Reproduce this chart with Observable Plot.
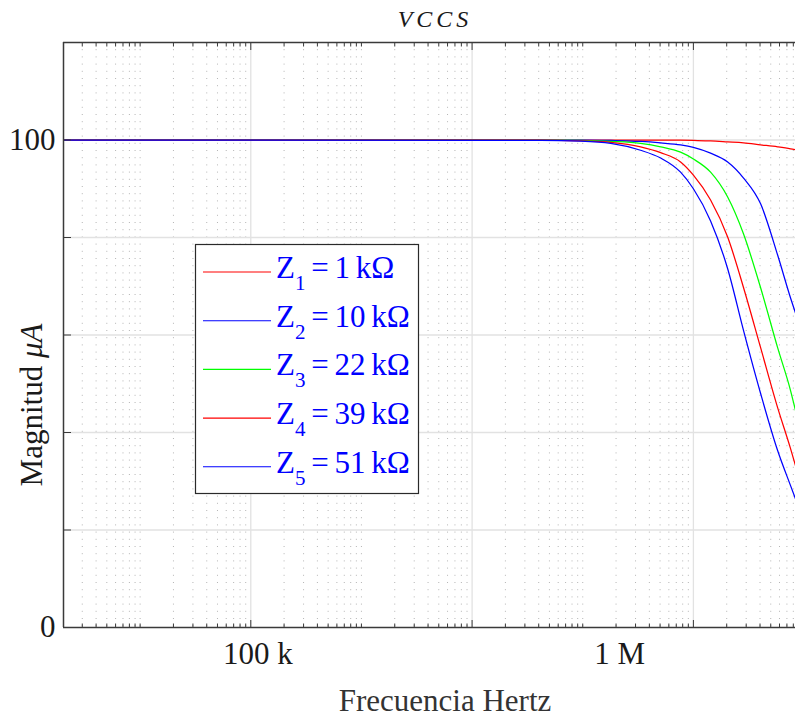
<!DOCTYPE html>
<html><head><meta charset="utf-8">
<script src="https://cdn.jsdelivr.net/npm/d3@7"></script>
<script src="https://cdn.jsdelivr.net/npm/@observablehq/plot@0.6"></script>
<style>body{margin:0;background:#fff} svg{display:block}</style>
</head><body><div id="chart"></div>
<script>
// ---- data ----
const freq = [2030, 4.17e7, 9.57e7, 1.79e8, 3.33e8, 5.06e8, 7.66e8, 1.00e9, 1.43e9, 2.04e9, 2.84e9, 4.05e9, 5.77e9, 7.55e9, 8.37e9];
const z1 = [100, 100, 100, 100, 100, 100, 99.96, 99.9, 99.8, 99.6, 99.4, 99.0, 98.6, 98.2, 98.0];
const z2 = [100, 100, 100, 99.9, 99.7, 99.4, 99.0, 98.5, 97.3, 95.5, 92.2, 86.9, 76.4, 67.6, 64.5];
const z3 = [100, 100, 99.9, 99.7, 99.3, 98.6, 97.5, 96.1, 93.4, 88.3, 80.7, 69.7, 57.4, 48.6, 44.5];
const z4 = [100, 100, 99.8, 99.5, 98.6, 97.4, 95.5, 92.8, 87.7, 80.1, 69.7, 57.4, 45.1, 36.7, 33.2];
const z5 = [100, 99.9, 99.75, 99.3, 97.9, 96.3, 93.4, 90.0, 83.4, 73.6, 60.9, 48.0, 36.3, 29.1, 26.4];
const seriesNames = ["1", "2", "3", "4", "5"];
const seriesNums = ["1", "10", "22", "39", "51"];
const seriesUnit = "k\u03A9";
const seriesColors = ["#ff0000", "#0000ff", "#00ff00", "#ff0000", "#0000ff"];
const xDomain = [2030, 8.37e9];
const yDomain = [0, 120];
const xMajor = [1e5, 1e7, 1e9];
const decades = [1e3, 1e4, 1e5, 1e6, 1e7, 1e8, 1e9];
const multipliers = [1, 2, 3, 4, 5, 6, 7, 8, 9];
const xTickValues = [1.157e5, 2.155e8];
const xTickLabels = ["100 k", "1 M"];
const yGrid = [20, 40, 60, 80, 100];
const yTicks = [0, 20, 40, 60, 80, 100, 120];
const yLabels = [0, 100];
const title = "VCCS";
const xLabel = "Frecuencia Hertz";

// ---- derived ----
const xMinor = decades.flatMap(p => multipliers.map(m => m * p))
  .filter(v => v >= xDomain[0] && v <= xDomain[1] && !xMajor.includes(v));
const allSeries = [z1, z2, z3, z4, z5];
const rows = allSeries.map((vals, s) => freq.map((f, i) => ({f, v: vals[i], s})));
const xTickRows = xTickValues.map((v, i) => ({v, label: xTickLabels[i]}));
const serif = "'Liberation Serif', 'Times New Roman', serif";
const axisColor = "#3a3a3a";

const chart = Plot.plot({
  width: 795, height: 717,
  marginLeft: 63, marginRight: 0, marginTop: 42, marginBottom: 90,
  x: {type: "log", domain: xDomain, axis: null},
  y: {domain: yDomain, axis: null},
  style: {fontFamily: serif, background: "#fff", color: "#1a1a1a"},
  marks: [
    Plot.ruleX(xMinor, {stroke: "#b5b5b5", strokeDasharray: "1,6.2", strokeWidth: 1}),
    Plot.ruleX(xMajor, {stroke: "#e2e2e2", strokeWidth: 1.3}),
    Plot.ruleY(yGrid, {stroke: "#e2e2e2", strokeWidth: 1.3}),
    ...rows.map((r, s) => Plot.line(r, {x: "f", y: "v", stroke: seriesColors[s], strokeWidth: 1.25, curve: "monotone-x"})),
    Plot.ruleY([yDomain[0], yDomain[1]], {stroke: axisColor, strokeWidth: 1.5}),
    Plot.ruleX([xDomain[0]], {stroke: axisColor, strokeWidth: 1.5}),
    Plot.axisX(xMinor, {anchor: "bottom", tickSize: -3.5, tickFormat: () => "", label: null, stroke: axisColor}),
    Plot.axisX(xMinor, {anchor: "top", tickSize: -3.5, tickFormat: () => "", label: null, stroke: axisColor}),
    Plot.axisX(xMajor, {anchor: "bottom", tickSize: -7, tickFormat: () => "", label: null, stroke: axisColor}),
    Plot.axisX(xMajor, {anchor: "top", tickSize: -7, tickFormat: () => "", label: null, stroke: axisColor}),
    Plot.axisY(yTicks, {anchor: "left", tickSize: -8, tickFormat: () => "", label: null, stroke: axisColor}),
    Plot.axisY(yLabels, {anchor: "left", tickSize: 0, tickPadding: 8, fontSize: 31, label: null, tickFormat: d => String(d), fill: "#1a1a1a"}),
    Plot.text(xTickRows, {x: "v", frameAnchor: "bottom", lineAnchor: "top", dy: 14, text: "label", fontSize: 31, fill: "#1a1a1a"})
  ]
});
document.getElementById("chart").appendChild(chart);

// ---- annotations: title, axis labels, legend ----
const svg = d3.select(chart);
svg.append("text").attr("x", 435).attr("y", 27).attr("text-anchor", "middle")
  .attr("font-family", serif).attr("font-style", "italic").attr("font-size", 24)
  .attr("letter-spacing", 4).attr("fill", "#1a1a1a").text(title);
svg.append("text").attr("x", 445).attr("y", 711).attr("text-anchor", "middle")
  .attr("font-family", serif).attr("font-size", 31).attr("fill", "#333").text(xLabel);
const yl = svg.append("text").attr("transform", "translate(42,405) rotate(-90)")
  .attr("text-anchor", "middle").attr("font-family", serif).attr("font-size", 31).attr("fill", "#1a1a1a");
yl.append("tspan").text("Magnitud ");
yl.append("tspan").attr("font-style", "italic").text("\u03BCA");

const lg = svg.append("g");
lg.append("rect").attr("x", 195.5).attr("y", 244.5).attr("width", 223).attr("height", 249)
  .attr("fill", "#fff").attr("stroke", "#2a2a2a").attr("stroke-width", 1.2);
seriesNames.forEach((n, i) => {
  const yy = 272 + i * 48.7;
  lg.append("line").attr("x1", 203).attr("x2", 271).attr("y1", yy).attr("y2", yy)
    .attr("stroke", seriesColors[i]).attr("stroke-width", 1.1);
  const t = lg.append("text").attr("x", 276).attr("y", yy + 6).attr("text-anchor", "start")
    .attr("font-family", serif).attr("font-size", 31).attr("word-spacing", -2).attr("fill", "#0000ff");
  t.append("tspan").text("Z");
  t.append("tspan").attr("font-size", 21).attr("dy", 12).text(n);
  t.append("tspan").attr("dy", -12).text(" = " + seriesNums[i] + " " + seriesUnit);
});
</script>
</body></html>
